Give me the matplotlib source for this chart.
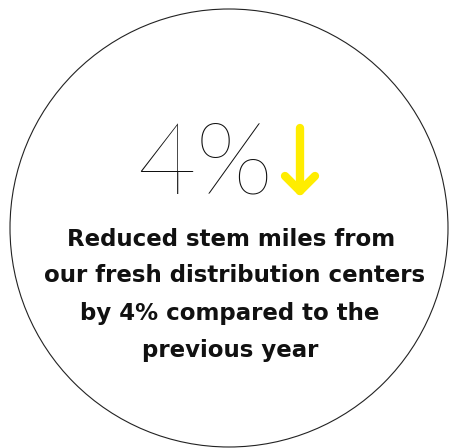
import matplotlib
matplotlib.use("Agg")
import matplotlib.pyplot as plt
from matplotlib.patches import Circle

# Data
headline_value = [4]
headline_unit = ["%"]
body_lines = [
    "Reduced stem miles from",
    "our fresh distribution centers",
    "by 4% compared to the",
    "previous year",
]

W, H = 449, 448
fig = plt.figure(figsize=(W / 100, H / 100), dpi=100)
ax = fig.add_axes([0, 0, 1, 1])
ax.set_xlim(0, W)
ax.set_ylim(H, 0)
ax.axis("off")

ax.add_patch(Circle((229, 228), 219, fill=False, edgecolor="#222222", lw=0.8))

ax.text(205.5, 193, f"{headline_value[0]}{headline_unit[0]}", ha="center", va="baseline",
        fontsize=73, family="Lato", fontweight="light", color="#111111")

# down arrow
ac = "#FFED00"
ax.plot([300, 300], [128, 191], color=ac, lw=6, solid_capstyle="round")
ax.plot([285, 300, 315], [176, 191, 176], color=ac, lw=6,
        solid_capstyle="round", solid_joinstyle="round")

ys = [246, 282, 320, 357]
xs = [231, 235, 230, 230]
for s, x, y in zip(body_lines, xs, ys):
    ax.text(x, y, s, ha="center", va="baseline", fontsize=16.5, family="DejaVu Sans",
            fontweight="bold", color="#111111")

fig.savefig("out.png", dpi=100)
